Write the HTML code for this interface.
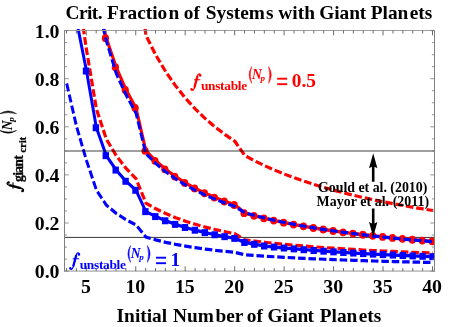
<!DOCTYPE html>
<html><head><meta charset="utf-8"><title>Chart</title>
<style>
html,body{margin:0;padding:0;background:#fff;}
svg{display:block;will-change:transform;}
text{font-family:"Liberation Serif",serif;font-weight:bold;}
.it{font-style:italic;}
.bd{fill:none;stroke:#00f;stroke-width:2.95;stroke-dasharray:7.52 2.894;}
.rd{fill:none;stroke:#f00;stroke-width:3.2;stroke-dasharray:7.52 2.894;}
.o{stroke-dashoffset:2.4;}
.bs{fill:none;stroke:#00f;stroke-width:3.0;stroke-linejoin:round;}
.rs{fill:none;stroke:#f00;stroke-width:3.1;stroke-linejoin:round;}
</style></head><body>
<svg width="463" height="327" viewBox="0 0 463 327">
<defs><clipPath id="c"><rect x="64.5" y="28.8" width="370.3" height="242.25"/></clipPath>
<g id="f" fill="none" stroke="currentColor" stroke-linecap="round">
<path d="M9.3,-11.8 C9.2,-13.5 7.3,-13.8 6.55,-11.4 L3.35,0.9 C2.7,3.3 1.2,4.1 0.4,2.4" stroke-width="1.3"/>
<path d="M6.45,-10.9 L3.45,0.4" stroke-width="2.25" stroke-linecap="butt"/>
<path d="M3.4,-7.2 H8.9" stroke-width="1.1"/>
<circle cx="9.15" cy="-11.6" r="0.7" stroke-width="1.2"/><circle cx="0.6" cy="2.3" r="0.7" stroke-width="1.2"/>
</g>
<g id="np">
<path d="M60.7,-20.4 Q55.3,-12.05 60.7,-3.7 Q57.6,-12.05 60.7,-20.4 Z" stroke="currentColor" stroke-width="0.5"/>
<text class="it" x="60.9" y="-8" font-size="13.6">N</text>
<text class="it" x="69.4" y="-6.2" font-size="9">p</text>
<path d="M77.5,-20.4 Q82.9,-12.05 77.5,-3.7 Q79.8,-12.05 77.5,-20.4 Z" stroke="currentColor" stroke-width="0.5"/>
</g>
<g id="fu">
<use href="#f"/>
<text x="9.9" y="2.8" font-size="13.4" textLength="46.3" lengthAdjust="spacing">unstable</text>
<use href="#np" x="0.1"/>
<rect x="86.2" y="-9.25" width="10" height="1.9"/><rect x="86.2" y="-3.75" width="10" height="1.9"/>
</g>
</defs>
<g clip-path="url(#c)">
<path d="M64.5,237.4 H434.5" stroke="#000" stroke-width="0.8"/>
<path d="M145.10,28.800 L145.90,35.410 L155.80,55.051 L165.70,71.670 L175.60,85.915 L185.50,98.261 L195.40,109.063 L205.30,118.595 L215.20,127.067 L225.10,134.648 L235.00,141.471 L244.90,155.660 L254.80,160.907 L264.70,165.698 L274.60,170.090 L284.50,174.130 L294.40,177.860 L304.30,181.313 L314.20,184.520 L324.10,187.506 L334.00,190.292 L343.90,192.899 L353.80,195.343 L363.70,197.638 L373.60,199.799 L383.50,201.836 L393.40,203.760 L403.30,205.580 L413.20,207.304 L423.10,208.940 L433.00,210.494" class="rd" style="stroke-dasharray:7.570 2.915;stroke-dashoffset:1.7"/>
<path d="M83.41,28.800 L86.50,49.840 L96.40,109.003 L106.30,139.037 L116.20,155.545 L126.10,168.384 L136.00,178.656 L145.90,203.067 L155.80,208.737 L165.70,213.534 L175.60,217.646 L185.50,221.209 L195.40,224.328 L205.30,227.079 L215.20,229.524 L225.10,231.713 L235.00,233.682 L244.90,239.835 L254.80,241.103 L264.70,242.261 L274.60,243.322 L284.50,244.299 L294.40,245.200 L304.30,246.035 L314.20,246.810 L324.10,247.531 L334.00,248.204 L343.90,248.834 L353.80,249.425 L363.70,249.980 L373.60,250.502 L383.50,250.994 L393.40,251.459 L403.30,251.899 L413.20,252.316 L423.10,252.711 L433.00,253.087" class="rd" style="stroke-dasharray:7.621 2.934;stroke-dashoffset:2.15"/>
<g transform="scale(1,1.09)">
<path d="M66.70,76.615 L76.60,116.330 L86.50,147.220 L96.40,174.359 L106.30,188.136 L116.20,195.709 L126.10,201.598 L136.00,206.310 L145.90,217.508 L155.80,220.109 L165.70,222.309 L175.60,224.195 L185.50,225.830 L195.40,227.260 L205.30,228.522 L215.20,229.644 L225.10,230.648 L235.00,231.551 L244.90,233.691 L254.80,234.374 L264.70,234.997 L274.60,235.569 L284.50,236.095 L294.40,236.580 L304.30,237.030 L314.20,237.447 L324.10,237.836 L334.00,238.198 L343.90,238.538 L353.80,238.856 L363.70,239.154 L373.60,239.436 L383.50,239.701 L393.40,239.951 L403.30,240.188 L413.20,240.412 L423.10,240.625 L433.00,240.828" class="bd"/>
<path d="M103.91,26.422 L106.30,35.008 L116.20,61.721 L126.10,82.498 L136.00,99.120 L145.90,138.394 L155.80,147.588 L165.70,155.367 L175.60,162.035 L185.50,167.813 L195.40,172.870 L205.30,177.331 L215.20,181.297 L225.10,184.845 L235.00,188.039 L244.90,195.551 L254.80,198.028 L264.70,200.289 L274.60,202.362 L284.50,204.269 L294.40,206.030 L304.30,207.660 L314.20,209.173 L324.10,210.583 L334.00,211.898 L343.90,213.128 L353.80,214.282 L363.70,215.365 L373.60,216.385 L383.50,217.347 L393.40,218.255 L403.30,219.114 L413.20,219.928 L423.10,220.700 L433.00,221.433" class="rs"/>
<g fill="#f00"><circle cx="105.45" cy="35.008" r="3.6"/><circle cx="115.35" cy="61.721" r="3.6"/><circle cx="125.25" cy="82.498" r="3.6"/><circle cx="135.15" cy="99.120" r="3.6"/><circle cx="145.05" cy="138.394" r="3.6"/><circle cx="154.95" cy="147.588" r="3.6"/><circle cx="164.85" cy="155.367" r="3.6"/><circle cx="174.75" cy="162.035" r="3.6"/><circle cx="184.65" cy="167.813" r="3.6"/><circle cx="194.55" cy="172.870" r="3.6"/><circle cx="204.45" cy="177.331" r="3.6"/><circle cx="214.35" cy="181.297" r="3.6"/><circle cx="224.25" cy="184.845" r="3.6"/><circle cx="234.15" cy="188.039" r="3.6"/><circle cx="244.05" cy="195.551" r="3.6"/><circle cx="253.95" cy="198.028" r="3.6"/><circle cx="263.85" cy="200.289" r="3.6"/><circle cx="273.75" cy="202.362" r="3.6"/><circle cx="283.65" cy="204.269" r="3.6"/><circle cx="293.55" cy="206.030" r="3.6"/><circle cx="303.45" cy="207.660" r="3.6"/><circle cx="313.35" cy="209.173" r="3.6"/><circle cx="323.25" cy="210.583" r="3.6"/><circle cx="333.15" cy="211.898" r="3.6"/><circle cx="343.05" cy="213.128" r="3.6"/><circle cx="352.95" cy="214.282" r="3.6"/><circle cx="362.85" cy="215.365" r="3.6"/><circle cx="372.75" cy="216.385" r="3.6"/><circle cx="382.65" cy="217.347" r="3.6"/><circle cx="392.55" cy="218.255" r="3.6"/><circle cx="402.45" cy="219.114" r="3.6"/><circle cx="412.35" cy="219.928" r="3.6"/><circle cx="422.25" cy="220.700" r="3.6"/><circle cx="432.15" cy="221.433" r="3.6"/></g>
<path d="M103.37,26.422 L106.30,37.340 L116.20,67.348 L126.10,87.206 L136.00,103.754 L145.90,141.002 L155.80,149.978 L165.70,157.573 L175.60,164.084 L185.50,169.726 L195.40,174.663 L205.30,179.019 L215.20,182.891 L225.10,186.355 L235.00,189.473 L244.90,195.131 L254.80,197.677 L264.70,200.002 L274.60,202.133 L284.50,204.093 L294.40,205.903 L304.30,207.578 L314.20,209.134 L324.10,210.583 L334.00,211.935 L343.90,213.199 L353.80,214.385 L363.70,215.499 L373.60,216.547 L383.50,217.536 L393.40,218.469 L403.30,219.352 L413.20,220.189 L423.10,220.983 L433.00,221.737" class="bd" style="stroke-dasharray:7.594 2.924;stroke-dashoffset:2.4"/>
<path d="M78.15,26.422 L86.50,65.141 L96.40,117.213 L106.30,142.807 L116.20,156.046 L126.10,166.343 L136.00,174.580 L145.90,194.157 L155.80,198.703 L165.70,202.550 L175.60,205.848 L185.50,208.706 L195.40,211.206 L205.30,213.413 L215.20,215.374 L225.10,217.129 L235.00,218.708 L244.90,222.449 L254.80,224.144 L264.70,225.692 L274.60,226.651 L284.50,227.534 L294.40,228.349 L304.30,229.103 L314.20,229.803 L324.10,230.456 L334.00,231.064 L343.90,231.634 L353.80,232.167 L363.70,232.669 L373.60,233.141 L383.50,233.586 L393.40,234.006 L403.30,234.404 L413.20,234.780 L423.10,235.138 L433.00,235.477" class="bs"/>
<g fill="#00f"><rect x="82.80" y="61.941" width="6.4" height="6.4"/><rect x="92.70" y="114.013" width="6.4" height="6.4"/><rect x="102.60" y="139.607" width="6.4" height="6.4"/><rect x="112.50" y="152.846" width="6.4" height="6.4"/><rect x="122.40" y="163.143" width="6.4" height="6.4"/><rect x="132.30" y="171.380" width="6.4" height="6.4"/><rect x="142.20" y="190.957" width="6.4" height="6.4"/><rect x="152.10" y="195.503" width="6.4" height="6.4"/><rect x="162.00" y="199.350" width="6.4" height="6.4"/><rect x="171.90" y="202.648" width="6.4" height="6.4"/><rect x="181.80" y="205.506" width="6.4" height="6.4"/><rect x="191.70" y="208.006" width="6.4" height="6.4"/><rect x="201.60" y="210.213" width="6.4" height="6.4"/><rect x="211.50" y="212.174" width="6.4" height="6.4"/><rect x="221.40" y="213.929" width="6.4" height="6.4"/><rect x="231.30" y="215.508" width="6.4" height="6.4"/><rect x="241.20" y="219.249" width="6.4" height="6.4"/><rect x="251.10" y="220.944" width="6.4" height="6.4"/><rect x="261.00" y="222.492" width="6.4" height="6.4"/><rect x="270.90" y="223.451" width="6.4" height="6.4"/><rect x="280.80" y="224.334" width="6.4" height="6.4"/><rect x="290.70" y="225.149" width="6.4" height="6.4"/><rect x="300.60" y="225.903" width="6.4" height="6.4"/><rect x="310.50" y="226.603" width="6.4" height="6.4"/><rect x="320.40" y="227.256" width="6.4" height="6.4"/><rect x="330.30" y="227.864" width="6.4" height="6.4"/><rect x="340.20" y="228.434" width="6.4" height="6.4"/><rect x="350.10" y="228.967" width="6.4" height="6.4"/><rect x="360.00" y="229.469" width="6.4" height="6.4"/><rect x="369.90" y="229.941" width="6.4" height="6.4"/><rect x="379.80" y="230.386" width="6.4" height="6.4"/><rect x="389.70" y="230.806" width="6.4" height="6.4"/><rect x="399.60" y="231.204" width="6.4" height="6.4"/><rect x="409.50" y="231.580" width="6.4" height="6.4"/><rect x="419.40" y="231.938" width="6.4" height="6.4"/><rect x="429.30" y="232.277" width="6.4" height="6.4"/></g>
</g>
<path d="M64.5,151.0 H434.5" stroke="#000" stroke-opacity="0.5" stroke-width="1.6"/>
</g>
<path d="M64.5,30.0 V271.55 M434.5,30.0 V271.55" stroke="#808080" stroke-width="1" fill="none"/>
<path d="M64.0,30.5 H435.0" stroke="#a0a0a0" stroke-width="1" fill="none"/>
<path d="M64.0,271.05 H435.0" stroke="#909090" stroke-width="1" fill="none"/>
<path d="M66.50,271.05 v-3.00 M66.50,30.50 v3.00 M76.39,271.05 v-3.00 M76.39,30.50 v3.00 M86.28,271.05 v-4.80 M86.28,30.50 v4.80 M96.18,271.05 v-3.00 M96.18,30.50 v3.00 M106.07,271.05 v-3.00 M106.07,30.50 v3.00 M115.96,271.05 v-3.00 M115.96,30.50 v3.00 M125.85,271.05 v-3.00 M125.85,30.50 v3.00 M135.74,271.05 v-4.80 M135.74,30.50 v4.80 M145.64,271.05 v-3.00 M145.64,30.50 v3.00 M155.53,271.05 v-3.00 M155.53,30.50 v3.00 M165.42,271.05 v-3.00 M165.42,30.50 v3.00 M175.31,271.05 v-3.00 M175.31,30.50 v3.00 M185.20,271.05 v-4.80 M185.20,30.50 v4.80 M195.10,271.05 v-3.00 M195.10,30.50 v3.00 M204.99,271.05 v-3.00 M204.99,30.50 v3.00 M214.88,271.05 v-3.00 M214.88,30.50 v3.00 M224.77,271.05 v-3.00 M224.77,30.50 v3.00 M234.66,271.05 v-4.80 M234.66,30.50 v4.80 M244.56,271.05 v-3.00 M244.56,30.50 v3.00 M254.45,271.05 v-3.00 M254.45,30.50 v3.00 M264.34,271.05 v-3.00 M264.34,30.50 v3.00 M274.23,271.05 v-3.00 M274.23,30.50 v3.00 M284.12,271.05 v-4.80 M284.12,30.50 v4.80 M294.02,271.05 v-3.00 M294.02,30.50 v3.00 M303.91,271.05 v-3.00 M303.91,30.50 v3.00 M313.80,271.05 v-3.00 M313.80,30.50 v3.00 M323.69,271.05 v-3.00 M323.69,30.50 v3.00 M333.58,271.05 v-4.80 M333.58,30.50 v4.80 M343.48,271.05 v-3.00 M343.48,30.50 v3.00 M353.37,271.05 v-3.00 M353.37,30.50 v3.00 M363.26,271.05 v-3.00 M363.26,30.50 v3.00 M373.15,271.05 v-3.00 M373.15,30.50 v3.00 M383.04,271.05 v-4.80 M383.04,30.50 v4.80 M392.94,271.05 v-3.00 M392.94,30.50 v3.00 M402.83,271.05 v-3.00 M402.83,30.50 v3.00 M412.72,271.05 v-3.00 M412.72,30.50 v3.00 M422.61,271.05 v-3.00 M422.61,30.50 v3.00 M432.50,271.05 v-4.80 M432.50,30.50 v4.80" stroke="#5a5a5a" stroke-width="0.9" fill="none"/>
<path d="M64.50,271.10 h4.20 M434.50,271.10 h-4.20 M64.50,259.08 h2.60 M434.50,259.08 h-2.60 M64.50,247.05 h2.60 M434.50,247.05 h-2.60 M64.50,235.03 h2.60 M434.50,235.03 h-2.60 M64.50,223.00 h4.20 M434.50,223.00 h-4.20 M64.50,210.98 h2.60 M434.50,210.98 h-2.60 M64.50,198.95 h2.60 M434.50,198.95 h-2.60 M64.50,186.93 h2.60 M434.50,186.93 h-2.60 M64.50,174.90 h4.20 M434.50,174.90 h-4.20 M64.50,162.88 h2.60 M434.50,162.88 h-2.60 M64.50,150.85 h2.60 M434.50,150.85 h-2.60 M64.50,138.83 h2.60 M434.50,138.83 h-2.60 M64.50,126.80 h4.20 M434.50,126.80 h-4.20 M64.50,114.78 h2.60 M434.50,114.78 h-2.60 M64.50,102.75 h2.60 M434.50,102.75 h-2.60 M64.50,90.73 h2.60 M434.50,90.73 h-2.60 M64.50,78.70 h4.20 M434.50,78.70 h-4.20 M64.50,66.68 h2.60 M434.50,66.68 h-2.60 M64.50,54.65 h2.60 M434.50,54.65 h-2.60 M64.50,42.62 h2.60 M434.50,42.62 h-2.60 M64.50,30.60 h4.20 M434.50,30.60 h-4.20" stroke="#777" stroke-width="0.8" fill="none"/>
<g fill="#000" stroke="none">
<path d="M373.2,153.2 L369.0,168.3 L371.9,166.8 V181.8 H374.5 V166.8 L377.4,168.3 Z"/>
<path d="M373.2,236.8 L369.0,221.9 L371.9,223.4 V208.4 H374.5 V223.4 L377.4,221.9 Z"/>
</g>
<g font-size="19.8" fill="#000"><text x="85.88" y="292.6" text-anchor="middle">5</text><text x="135.34" y="292.6" text-anchor="middle">10</text><text x="184.80" y="292.6" text-anchor="middle">15</text><text x="234.26" y="292.6" text-anchor="middle">20</text><text x="283.72" y="292.6" text-anchor="middle">25</text><text x="333.18" y="292.6" text-anchor="middle">30</text><text x="382.64" y="292.6" text-anchor="middle">35</text><text x="432.10" y="292.6" text-anchor="middle">40</text><text x="59.5" y="278.20" text-anchor="end">0.0</text><text x="59.5" y="230.10" text-anchor="end">0.2</text><text x="59.5" y="182.00" text-anchor="end">0.4</text><text x="59.5" y="133.90" text-anchor="end">0.6</text><text x="59.5" y="85.80" text-anchor="end">0.8</text><text x="59.5" y="37.70" text-anchor="end">1.0</text></g>
<g font-size="19.35" fill="#000">
<text x="65.60" y="19.4" textLength="36.9" lengthAdjust="spacing">Crit.</text><text x="107.10" y="19.4">Fractio</text><text x="168.45" y="19.4">n</text><text x="183.80" y="19.4">of</text><text x="205.85" y="19.4">System</text><text x="266.10" y="19.4">s</text><text x="278.35" y="19.4">with</text><text x="319.15" y="19.4">Gian</text><text x="359.65" y="19.4">t</text><text x="370.75" y="19.4">Plan</text><text x="409.70" y="19.4">ets</text>
<text x="116.60" y="322.3">Initial</text><text x="172.95" y="322.3">Num</text><text x="215.45" y="322.3">ber</text><text x="246.80" y="322.3">of</text><text x="267.50" y="322.3">Gian</text><text x="307.55" y="322.3">t</text><text x="319.75" y="322.3">Plan</text><text x="358.70" y="322.3">ets</text>
</g>
<g font-size="13.9" fill="#000">
<text x="318.0" y="191.6" textLength="109.3" lengthAdjust="spacing">Gould et al. (2010)</text>
<text x="316.6" y="205.9" textLength="112.6" lengthAdjust="spacing">Mayor et al. (2011)</text>
</g>
<g fill="#f00" color="#f00" transform="translate(191,87)"><use href="#fu"/><text x="100.8" y="0.2" font-size="19.35">0.5</text></g>
<g fill="#00f" color="#00f" transform="translate(69.8,266)"><use href="#fu"/><text x="100.6" y="0.2" font-size="19.35">1</text></g>
<g fill="#000" color="#000" transform="translate(20.2,191.6) rotate(-90)">
<use href="#f"/>
<g stroke="#000" stroke-width="0.3">
<text x="9.7" y="3" font-size="13.6" textLength="26.6" lengthAdjust="spacing">giant</text>
<text x="39.2" y="6.1" font-size="10" textLength="15.6" lengthAdjust="spacing">crit</text>
</g>
<use href="#np" x="0.4"/>
</g>
</svg>
</body></html>
